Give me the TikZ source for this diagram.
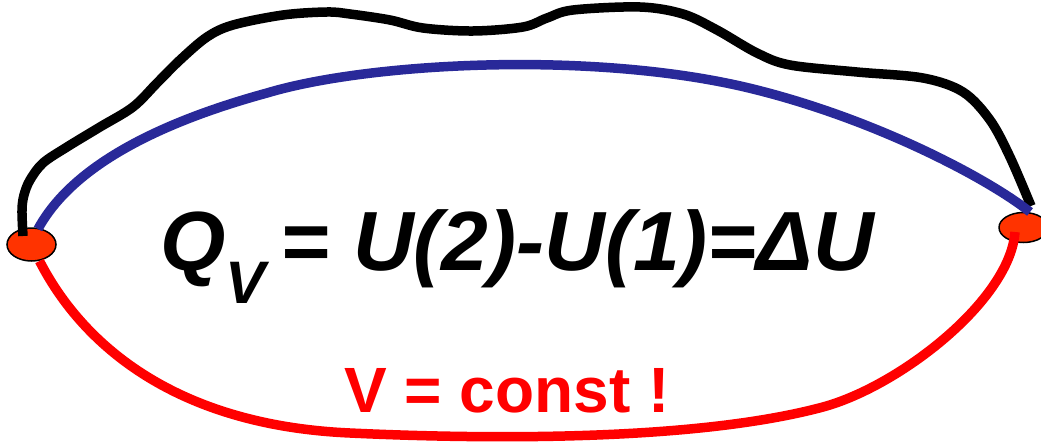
\documentclass[tikz,border=0pt]{standalone}
\usepackage{fontspec}
\setmainfont{Liberation Sans}
\usetikzlibrary{shapes.geometric}
\definecolor{pathblue}{RGB}{41,41,153}
\definecolor{dotred}{RGB}{255,51,0}
\definecolor{pathred}{RGB}{255,0,0}
\begin{document}
\begin{tikzpicture}[x=1pt,y=-1pt,
  state/.style={ellipse,draw=black,line width=1.5pt,fill=dotred,minimum width=49pt,minimum height=33pt,inner sep=0pt},
  curve/.style={line width=9.5pt,line cap=butt,line join=round},
  formula/.style={font=\fontsize{84}{84}\selectfont\bfseries\itshape,inner sep=0pt,anchor=base west},
  note/.style={font=\fontsize{64}{64}\selectfont\bfseries,text=pathred,inner sep=0pt,anchor=base west}]
\useasboundingbox (0,0) rectangle (1041,447);
\begin{scope}
\clip (0,0) rectangle (1041,447);
\node[state] (L) at (31.5,244.5) {};
\node[state,minimum height=30pt] (R) at (1023.5,227.5) {};
\coordinate (Lk) at (23,236);
\coordinate (Rk) at (1031,206);
\coordinate (Lb) at (38,229);
\coordinate (Rb) at (1030,212);
\coordinate (Lr) at (39.5,261);
\coordinate (Rr) at (1015,232);
\draw[curve,black] plot[smooth,tension=0.55] coordinates {(Lk) (22,210) (24,195) (30,180) (43,163) (67,147) (100,127) (133,107) (157,83) (180,60) (207,37) (233,25) (283,15) (327,12) (350,14) (390,20) (423,28) (473,31) (523,27) (547,18) (573,10) (640,7) (683,14) (717,30) (757,53) (790,65) (857,72) (923,78) (963,92) (990,120) (1010,157) (Rk)};
\draw[curve,pathblue] (Lb) .. controls (70,170) and (150,125) .. (267,93)
  .. controls (370,62) and (600,50) .. (757,90)
  .. controls (880,121) and (990,180) .. (Rb);
\draw[curve,pathred] (Lr) .. controls (80,340) and (170,425) .. (350,433)
  .. controls (500,440) and (700,440) .. (823,407)
  .. controls (900,386) and (1010,300) .. (Rr);
\end{scope}
\node[formula] (eq) at (160,270) {Q\raisebox{-33pt}{\fontsize{60}{60}\selectfont V}\kern-8pt{} = U(2)-U(1)=ΔU};
\node[note] (vc) at (344,412) {V = const !};
\end{tikzpicture}
\end{document}
